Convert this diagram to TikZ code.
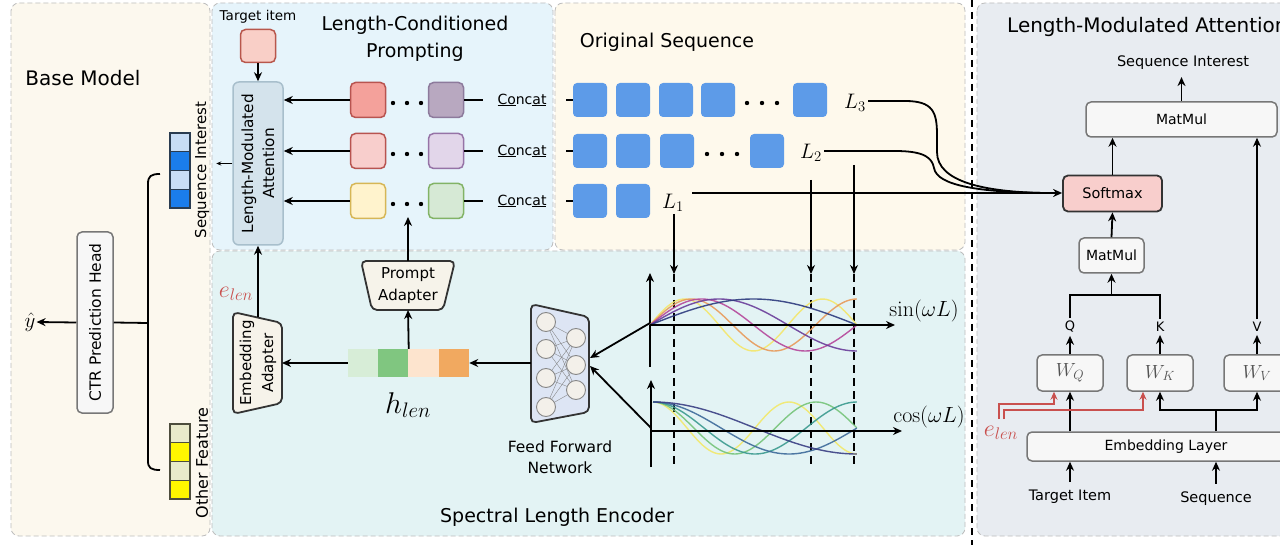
\RequirePackage{fix-cm}
\documentclass[tikz,border=0pt]{standalone}
\usepackage[no-math]{fontspec}
\setmainfont{DejaVu Sans}
\usetikzlibrary{arrows.meta,calc}
\newcommand{\fsz}[2]{\fontsize{#1}{#2}\selectfont}
\definecolor{basecream}{HTML}{FCF8EE}
\definecolor{lcpblue}{HTML}{E6F4FB}
\definecolor{seqcream}{HTML}{FEF9EC}
\definecolor{slecyan}{HTML}{E3F3F4}
\definecolor{rightgray}{HTML}{E8ECF1}
\definecolor{panelgray}{HTML}{BDBDBD}
\definecolor{seqblue}{HTML}{5D9BE8}
\definecolor{silight}{HTML}{C8DDF5}
\definecolor{siblue}{HTML}{1B7DEB}
\definecolor{sidraw}{HTML}{2A3C50}
\definecolor{oflight}{HTML}{E9EACB}
\definecolor{ofyellow}{HTML}{FFF600}
\definecolor{ofdraw}{HTML}{4D4D3D}
\definecolor{boxgray}{HTML}{777777}
\definecolor{boxfill}{HTML}{F7F7F7}
\definecolor{tgtfill}{HTML}{F9CFC7}
\definecolor{tgtdraw}{HTML}{B8574C}
\definecolor{lmafill}{HTML}{D4E3EC}
\definecolor{lmadraw}{HTML}{A8BFCC}
\definecolor{raf}{HTML}{F4A19B}
\definecolor{rad}{HTML}{B85450}
\definecolor{rbf}{HTML}{B8A8C0}
\definecolor{rbd}{HTML}{8D7A9C}
\definecolor{rcf}{HTML}{F8CECC}
\definecolor{rdf}{HTML}{E2D6EA}
\definecolor{rdd}{HTML}{9673A6}
\definecolor{ref}{HTML}{FFF3CD}
\definecolor{red}{HTML}{D6B656}
\definecolor{rff}{HTML}{D6E9D5}
\definecolor{rfd}{HTML}{82B366}
\definecolor{adfill}{HTML}{F6F3EA}
\definecolor{ffnfill}{HTML}{DDE5F4}
\definecolor{circfill}{HTML}{F3F0EA}
\definecolor{circdraw}{HTML}{888888}
\definecolor{hA}{HTML}{D7EDD7}
\definecolor{hB}{HTML}{80C680}
\definecolor{hC}{HTML}{FDE4CE}
\definecolor{hD}{HTML}{F1A960}
\definecolor{smfill}{HTML}{F8CECC}
\definecolor{elenred}{HTML}{C9504E}
\definecolor{dk}{HTML}{333333}
\definecolor{sA}{HTML}{2D3A7E}
\definecolor{sB}{HTML}{6A3D9A}
\definecolor{sC}{HTML}{B5479B}
\definecolor{sD}{HTML}{E89A5A}
\definecolor{sE}{HTML}{F4E66A}
\definecolor{cA}{HTML}{3A3F84}
\definecolor{cB}{HTML}{3D6A9A}
\definecolor{cC}{HTML}{3A9A8E}
\definecolor{cD}{HTML}{76C47A}
\definecolor{cE}{HTML}{F2E86A}
\begin{document}
\begin{tikzpicture}[x=1pt,y=-1pt,
  arr/.style={-{Stealth[length=9pt,width=8pt]}, line width=1.8pt},
  thinarr/.style={-{Stealth[length=5pt,width=4pt]}, line width=0.7pt},
  redarr/.style={-{Stealth[length=8pt,width=7pt]}, line width=1.6pt, draw=elenred},
  ln/.style={line width=1.8pt},
  dsh/.style={line width=2pt, dash pattern=on 8pt off 5pt},
  panel/.style={draw=panelgray, dash pattern=on 5pt off 3pt, line width=0.8pt, rounded corners=8pt},
  lbl/.style={inner sep=0pt, font=\fsz{14}{17}},
  ttl/.style={inner sep=0pt, font=\fsz{19}{27}, align=center},
  mth/.style={inner sep=2pt, font=\fsz{21}{21}},
  cellb/.style={draw=sidraw, line width=1.2pt, minimum width=20pt, minimum height=18.75pt, inner sep=0pt},
  celly/.style={draw=ofdraw, line width=1.2pt, minimum width=20pt, minimum height=18.75pt, inner sep=0pt},
  pbox/.style={line width=1.5pt, rounded corners=5pt, minimum width=35pt, minimum height=35pt, inner sep=0pt},
  sq/.style={fill=seqblue, rounded corners=4pt, minimum width=34pt, minimum height=34pt, inner sep=0pt},
  gbox/.style={draw=boxgray, fill=boxfill, line width=1.5pt, rounded corners=5pt, inner sep=0pt, font=\fsz{14}{17}},
  hcell/.style={minimum width=30.25pt, minimum height=28pt, inner sep=0pt},
  ccat/.style={inner ysep=0pt, inner xsep=14pt, font=\fsz{14}{17}},
]
\useasboundingbox (0,0) rectangle (1280,545);
\clip (0,0) rectangle (1280,545);
\fill[white] (0,0) rectangle (1280,545);

% ---------- panels ----------
\path[panel, fill=basecream] (11,3) rectangle (210,536);
\path[panel, fill=lcpblue] (212,3) rectangle (553,250);
\path[panel, fill=seqcream] (555,3) rectangle (965,250);
\path[panel, fill=slecyan] (212,251) rectangle (965,536);
\path[panel, fill=rightgray] (977,3) rectangle (1310,536);
\draw[line width=2.2pt, dash pattern=on 7pt off 5pt] (972,0) -- (972,545);

% ---------- Base model ----------
\node[ttl, font=\fsz{20}{27}] (bmt) at (83,78) {Base Model};
\node[cellb, fill=silight] (si1) at (180,142.4) {};
\node[cellb, fill=siblue] (si2) at (180,161.1) {};
\node[cellb, fill=silight] (si3) at (180,179.9) {};
\node[cellb, fill=siblue] (si4) at (180,198.6) {};
\node[lbl, rotate=90, font=\fsz{15}{18}] (silbl) at (202,170) {Sequence Interest};
\node[celly, fill=oflight] (of1) at (180,433.4) {};
\node[celly, fill=ofyellow] (of2) at (180,452.1) {};
\node[celly, fill=oflight] (of3) at (180,470.9) {};
\node[celly, fill=ofyellow] (of4) at (180,489.6) {};
\node[lbl, rotate=90, font=\fsz{16}{18}] (oflbl) at (202,463) {Other Feature};
\draw[line width=1.8pt] (160,174) .. controls (151,174) and (148,176) .. (148,184) -- (148,461) .. controls (148,468) and (151,470) .. (160,470);
\coordinate (bmid) at (148,323);
\node[gbox, rotate=90, minimum width=181pt, minimum height=36pt, font=\fsz{15.5}{18}] (ctr) at (95,322.5) {CTR Prediction Head};
\node[mth, inner sep=1pt] (yhat) at (30,322) {$\hat{y}$};
\draw[ln] (bmid) -- (ctr.south);
\draw[arr] (ctr.north) -- (yhat.east);

% ---------- Length-Conditioned Prompting ----------
\node[ttl] (lcpt) at (415,38.5) {Length-Conditioned\\Prompting};
\node[lbl, font=\fsz{13.5}{16}] (tit) at (258,17) {Target item};
\node[pbox, draw=tgtdraw, fill=tgtfill, minimum height=33pt] (tgt) at (258,46) {};
\node[draw=lmadraw, fill=lmafill, line width=1.5pt, rounded corners=6pt, rotate=90, minimum width=163pt, minimum height=50pt, align=center, font=\fsz{15.3}{21}, inner sep=0pt] (lma) at (258,163.5) {Length-Modulated\\Attention};
\draw[arr] (tgt) -- (lma);
\draw[thinarr] (lma.north) -- ++(-16,0);

\node[pbox, draw=rad, fill=raf] (p11) at (368,100) {};
\node[pbox, draw=rbd, fill=rbf] (p12) at (446,100) {};
\node[pbox, draw=rad, fill=rcf] (p21) at (368,151) {};
\node[pbox, draw=rdd, fill=rdf] (p22) at (446,151) {};
\node[pbox, draw=red, fill=ref] (p31) at (368,201) {};
\node[pbox, draw=rfd, fill=rff] (p32) at (446,201) {};
\foreach \yy in {103,154,204} {
  \foreach \xx in {393,407,421} { \fill (\xx,\yy) circle (2.2pt); }
}
\draw[arr] (p11.west) -- (p11.west -| lma.south);
\draw[arr] (p21.west) -- (p21.west -| lma.south);
\draw[arr] (p31.west) -- (p31.west -| lma.south);

\node[ccat] (c1) at (522,100) {\underline{Co}nc\underline{at}};
\node[ccat] (c2) at (522,151) {\underline{Co}nc\underline{at}};
\node[ccat] (c3) at (522,201) {\underline{Co}nc\underline{at}};
\draw[ln] (p12.east) -- (c1.west);
\draw[ln] (p22.east) -- (c2.west);
\draw[ln] (p32.east) -- (c3.west);

% ---------- Original sequence ----------
\node[ttl] (ost) at (667,42) {Original Sequence};
\node[sq] (s11) at (590,100) {};
\node[sq] (s12) at (633,100) {};
\node[sq] (s13) at (676,100) {};
\node[sq] (s14) at (718,100) {};
\node[sq] (s15) at (810,100) {};
\node[sq] (s21) at (590,151) {};
\node[sq] (s22) at (633,151) {};
\node[sq] (s23) at (677,151) {};
\node[sq] (s24) at (767,151) {};
\node[sq] (s31) at (590,201) {};
\node[sq] (s32) at (633,201) {};
\foreach \xx in {747,762,777} { \fill (\xx,103) circle (2.2pt); }
\foreach \xx in {707,722,737} { \fill (\xx,154) circle (2.2pt); }
\draw[ln] (s11.west) -- ++(-7,0);
\draw[ln] (s21.west) -- ++(-7,0);
\draw[ln] (s31.west) -- ++(-7,0);
\node[mth] (L3) at (855,103) {$L_3$};
\node[mth] (L2) at (811,153) {$L_2$};
\node[mth] (L1) at (673,203) {$L_1$};

% ---------- Right panel ----------
\node[ttl, anchor=west, font=\fsz{20}{27}] (lmat) at (1007,27) {Length-Modulated Attention};
\node[lbl, font=\fsz{14.5}{17}] (sio) at (1183,63) {Sequence Interest};
\node[gbox, minimum width=191pt, minimum height=35pt] (mm1) at (1181.5,119.5) {MatMul};
\node[gbox, draw=dk, fill=smfill, line width=1.8pt, minimum width=99pt, minimum height=36pt, font=\fsz{14.5}{17}] (sm) at (1112.5,193.5) {Softmax};
\node[gbox, minimum width=65pt, minimum height=35pt] (mm2) at (1111.5,255.5) {MatMul};
\draw[arr, shorten >=7pt] (mm1.north) -- (mm1.north |- sio.south);
\draw[arr] (sm.north) -- (sm.north |- mm1.south);
\draw[arr] (mm2.north) -- (sm.south);
\node[lbl, font=\fsz{13}{15}, inner sep=3pt] (q) at (1070,327) {Q};
\node[lbl, font=\fsz{13}{15}, inner sep=3pt] (k) at (1160,327) {K};
\node[lbl, font=\fsz{13}{15}, inner sep=3pt] (v) at (1257,327) {V};
\coordinate (qk) at (1111.5,295);
\draw[ln] (q.north) |- (qk) -| (k.north);
\draw[arr] (qk) -- (mm2.south);
\draw[arr] (v.north) -- (v.north |- mm1.south);
\node[gbox, minimum width=66pt, minimum height=36pt, font=\fsz{19}{19}, text=dk!85] (wq) at (1070,373) {$W_Q$};
\node[gbox, minimum width=66pt, minimum height=36pt, font=\fsz{19}{19}, text=dk!85] (wk) at (1160,373) {$W_K$};
\node[gbox, minimum width=66pt, minimum height=36pt, font=\fsz{19}{19}, text=dk!85] (wv) at (1257,373) {$W_V$};
\draw[arr] (wq.north) -- (q.south);
\draw[arr] (wk.north) -- (k.south);
\draw[arr] (wv.north) -- (v.south);
\node[gbox, minimum width=278pt, minimum height=29pt] (emb) at (1166,446.5) {Embedding Layer};
\draw[arr] (wq.south |- emb.north) -- (wq.south);
\coordinate (kv) at (1216,410);
\draw[ln] (kv |- emb.north) -- (kv);
\draw[arr] (kv) -| (wk.south);
\draw[arr] (kv) -| (wv.south);
\node[mth, font=\fsz{24}{24}, text=elenred] (elen2) at (1001,433) {$e_{len}$};
\coordinate (rb1) at (999,419);
\coordinate (rq) at (1054,404);
\coordinate (rb2) at (1004,419);
\coordinate (rk) at (1143,410);
\draw[redarr] (rb1) |- (rq) -- (rq |- wq.south);
\draw[redarr] (rb2) |- (rk) -- (rk |- wk.south);
\node[lbl, font=\fsz{14.5}{17}] (ti) at (1070,497) {Target Item};
\node[lbl, font=\fsz{14.5}{17}] (sqn) at (1216,499) {Sequence};
\draw[arr, shorten <=8pt] (ti.north) -- (ti.north |- emb.south);
\draw[arr, shorten <=8pt] (sqn.north) -- (sqn.north |- emb.south);

% ---------- L connectors ----------
\coordinate (l1a) at (692,193);
\draw[arr] (l1a) -- (l1a -| sm.west);
\coordinate (d1t) at (674,274);
\coordinate (d1b) at (674,467);
\coordinate (d2t) at (811,274);
\coordinate (d2b) at (811,467);
\coordinate (d3t) at (854,274);
\coordinate (d3b) at (854,467);
\coordinate (l2d) at (811,180);
\coordinate (l3d) at (854,165);
\draw[arr] (L1.south -| d1t) -- (d1t);
\draw[arr] (l2d) -- (d2t);
\draw[arr] (l3d) -- (d3t);
\draw[ln] ([yshift=2pt]L3.east) -- (905,101) .. controls (933,101) and (937,112) .. (937,135) -- (937,152) .. controls (937,182) and (985,192) .. (1045,193);
\draw[ln] ([yshift=2pt]L2.east) -- (895,151) .. controls (925,151) and (932,158) .. (934,168) .. controls (937,186) and (980,192) .. (1045,193);

% ---------- Spectral length encoder ----------
\node[ttl] (slet) at (557,517) {Spectral Length Encoder};
\draw[dsh] (d1t) -- (d1b);
\draw[dsh] (d2t) -- (d2b);
\draw[dsh] (d3t) -- (d3b);
% sin plot
\coordinate (so) at (650,325);
\draw[arr] (650,367) -- (650,273);
\foreach \k/\c in {3/sE,2.5/sD,2/sC,1.5/sB,1/sA} {
  \draw[\c, line width=1.4pt, opacity=0.9] plot[domain=0:1, samples=70, smooth] ({650+207*\x},{325-26*sin(180*\k*\x)});
}
\draw[arr] (so) -- (895,325);
\node[mth, font=\fsz{22}{22}] (sinl) at (924,311) {$\sin(\omega L)$};
% cos plot
\coordinate (co) at (651,431);
\draw[arr] (651,467) -- (651,380);
\foreach \k/\c in {3/cE,2.5/cD,2/cC,1.5/cB,1/cA} {
  \draw[\c, line width=1.4pt, opacity=0.9] plot[domain=0:1, samples=70, smooth] ({653+204*\x},{428-26*cos(180*\k*\x)});
}
\draw[arr] (co) -- (902,431);
\node[mth, font=\fsz{22}{22}] (cosl) at (929,417) {$\cos(\omega L)$};

% FFN
\coordinate (ffnl) at (531,363);
\coordinate (ffnr1) at (590,358);
\coordinate (ffnr2) at (590,366);
\draw[dk, fill=ffnfill, line width=1.8pt, rounded corners=5pt] (531,304) -- (589,317) -- (589,412) -- (531,423) -- cycle;
\foreach \a in {322,349,378,407} {
  \foreach \b in {338,365,390} { \draw[line width=0.35pt, gray] (546,\a) -- (576,\b); }
}
\foreach \a in {322,349,378,407} { \draw[circdraw, fill=circfill, line width=0.9pt] (546,\a) circle (9.5pt); }
\foreach \b in {338,365,390} { \draw[circdraw, fill=circfill, line width=0.9pt] (576,\b) circle (9.5pt); }
\node[align=center, inner sep=0pt, font=\fsz{15.5}{21}] (ffnlbl) at (560,457) {Feed Forward\\Network};
\draw[arr] ([yshift=2pt]so) -- (ffnr1);
\draw[arr] ([yshift=3pt]co) -- (ffnr2);

% h_len
\node[hcell, fill=hA] (h1) at (363.1,363) {};
\node[hcell, fill=hB] (h2) at (393.4,363) {};
\node[hcell, fill=hC] (h3) at (423.6,363) {};
\node[hcell, fill=hD] (h4) at (453.9,363) {};
\node[mth, font=\fsz{30}{30}] (hlen) at (408,405) {$h_{len}$};
\draw[arr] (ffnl) -- (h4.east);

% Prompt adapter
\coordinate (pab) at (408,310);
\coordinate (pat) at (408,261);
\coordinate (pdt) at (408,217);
\draw[dk, fill=adfill, line width=1.8pt, rounded corners=5pt] (361,261) -- (455,261) -- (443,310) -- (372,310) -- cycle;
\node[align=center, inner sep=0pt, font=\fsz{15}{22}] (palbl) at (408,286) {Prompt\\Adapter};
\draw[arr] (h2.north east) -- (pab);
\draw[arr] (pat) -- (pdt);

% Embedding adapter
\coordinate (ear) at (282,363);
\coordinate (eat) at (258,317);
\draw[dk, fill=adfill, line width=1.8pt, rounded corners=5pt] (233,312) -- (282,323) -- (282,403) -- (233,414) -- cycle;
\node[align=center, inner sep=0pt, rotate=90, font=\fsz{15}{22}] (ealbl) at (258,363) {Embedding\\Adapter};
\draw[arr] (h1.west) -- (ear);
\draw[arr] (eat) -- (lma.west);
\node[mth, font=\fsz{24}{24}, text=elenred] (elen) at (236,294) {$e_{len}$};
\end{tikzpicture}
\end{document}
